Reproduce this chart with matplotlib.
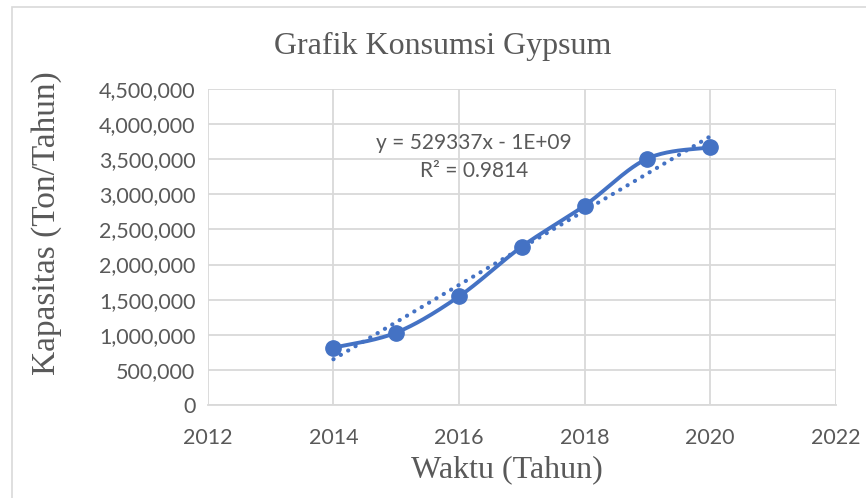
import matplotlib
matplotlib.use("Agg")
import matplotlib.pyplot as plt
from matplotlib.patches import Rectangle
import numpy as np

# data
years = [2014, 2015, 2016, 2017, 2018, 2019, 2020]
consumption = [815000, 1030000, 1545000, 2255000, 2840000, 3510000, 3670000]
y_ticks = [0, 500000, 1000000, 1500000, 2000000, 2500000, 3000000, 3500000, 4000000, 4500000]
x_ticks = [2012, 2014, 2016, 2018, 2020, 2022]

blue = '#4472C4'
grid_col = '#D9D9D9'
text_col = '#595959'


def smooth_curve(xs, ys, n=40):
    # Excel-like smoothing: cubic Bezier with Catmull-Rom control points
    pts = np.column_stack([xs, ys]).astype(float)
    ext = np.vstack([pts[0], pts, pts[-1]])
    out = []
    t = np.linspace(0, 1, n)[:, None]
    for i in range(len(pts) - 1):
        p0, p1, p2, p3 = ext[i], ext[i + 1], ext[i + 2], ext[i + 3]
        c1 = p1 + (p2 - p0) / 6
        c2 = p2 - (p3 - p1) / 6
        seg = ((1 - t) ** 3) * p1 + 3 * ((1 - t) ** 2) * t * c1 + 3 * (1 - t) * t ** 2 * c2 + t ** 3 * p2
        out.append(seg)
    out = np.vstack(out)
    return out[:, 0], out[:, 1]


fig = plt.figure(figsize=(8.66, 4.98), dpi=100)
ax = fig.add_axes([0.240, 0.187, 0.725, 0.634])

# outer chart border
fig.patches.append(Rectangle((12 / 866, -0.05), 1.1, 1.05 - 7 / 498,
                             transform=fig.transFigure, fill=False,
                             edgecolor=grid_col, linewidth=1.2))

ax.set_xlim(2012, 2022)
ax.set_ylim(0, 4500000)
ax.set_xticks(x_ticks)
ax.set_yticks(y_ticks)
ax.set_yticklabels(['{:,}'.format(v) for v in y_ticks])
ax.grid(True, color=grid_col, linewidth=1.3)
ax.set_axisbelow(True)
for s in ['top', 'right', 'left']:
    ax.spines[s].set_visible(False)
ax.spines['bottom'].set_color(grid_col)
ax.spines['bottom'].set_linewidth(1.3)
ax.tick_params(length=0, labelsize=15.5, labelcolor=text_col)
ax.tick_params(axis='y', pad=9)
ax.tick_params(axis='x', pad=17)
for lab in ax.get_xticklabels() + ax.get_yticklabels():
    lab.set_family('Lato')

# trendline (linear fit, dotted)
slope, intercept = np.polyfit(years, consumption, 1)
tx = np.array([years[0], years[-1]], dtype=float)
ax.plot(tx, slope * tx + intercept, color=blue, linestyle=(0, (0.05, 2.0)),
        linewidth=3.0, dash_capstyle='round')

# smoothed series
sx, sy = smooth_curve(years, consumption)
ax.plot(sx, sy, color=blue, linewidth=2.8, solid_capstyle='round')
ax.plot(years, consumption, 'o', color=blue, markersize=11)

ax.text(2016.24, 3730000, 'y = 529337x - 1E+09', ha='center', va='center',
        fontsize=15, color=text_col, family='Lato')
ax.text(2016.24, 3340000, 'R² = 0.9814', ha='center', va='center',
        fontsize=15, color=text_col, family='Lato')

fig.text(0.511, 0.906, 'Grafik Konsumsi Gypsum', ha='center', va='center',
         fontsize=23, color=text_col, family='Liberation Serif')
fig.text(0.054, 0.552, 'Kapasitas (Ton/Tahun)', ha='center', va='center',
         rotation=90, fontsize=24, color=text_col, family='Liberation Serif')
fig.text(0.585, 0.056, 'Waktu (Tahun)', ha='center', va='center',
         fontsize=23, color=text_col, family='Liberation Serif')

fig.savefig('out.png', dpi=100)
